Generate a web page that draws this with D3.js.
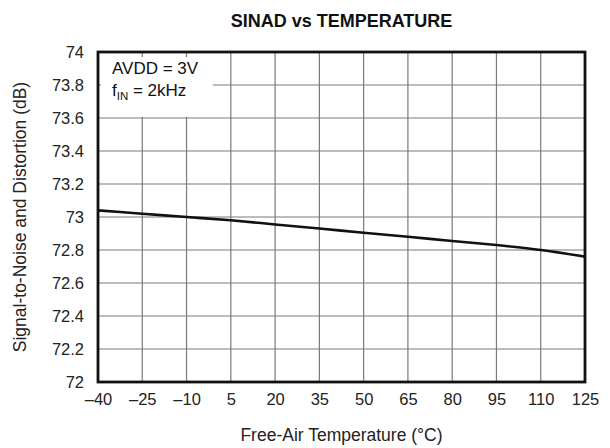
<!DOCTYPE html>
<html>
<head>
<meta charset="utf-8">
<script src="https://cdn.jsdelivr.net/npm/d3@7"></script>
<style>
  body { margin: 0; background: #fff; }
  svg { display: block; font-family: "Liberation Sans", Arial, Helvetica, sans-serif; }
</style>
</head>
<body>
<svg id="chart" width="610" height="448"></svg>
<script>
// SINAD vs temperature
const temps = [-40, -25, -10, 5, 20, 35, 50, 65, 80, 95, 110, 125];
const sinad = [73.04, 73.02, 73.0, 72.98, 72.955, 72.93, 72.905, 72.88, 72.855, 72.83, 72.8, 72.76];
const xTicks = [-40, -25, -10, 5, 20, 35, 50, 65, 80, 95, 110, 125];
const yTicks = [72, 72.2, 72.4, 72.6, 72.8, 73, 73.2, 73.4, 73.6, 73.8, 74];

const svg = d3.select('#chart'),
  margin = {left: 98, right: 25, top: 52, bottom: 66},
  width = +svg.attr('width') - margin.left - margin.right,
  height = +svg.attr('height') - margin.top - margin.bottom;

const x = d3.scaleLinear().domain([-40, 125]).range([0, width]);
const y = d3.scaleLinear().domain([72, 74]).range([height, 0]);

const g = svg.append('g').attr('transform', 'translate(' + margin.left + ',' + margin.top + ')');

// grid
g.append('g')
  .selectAll('line')
  .data(xTicks.slice(1, -1))
  .join('line')
  .attr('x1', d => x(d)).attr('x2', d => x(d))
  .attr('y1', 0).attr('y2', height)
  .attr('stroke', '#7a7a7a').attr('stroke-width', 1.2);

g.append('g')
  .selectAll('line')
  .data(yTicks.slice(1, -1))
  .join('line')
  .attr('x1', 0).attr('x2', width)
  .attr('y1', d => y(d)).attr('y2', d => y(d))
  .attr('stroke', '#7a7a7a').attr('stroke-width', 1.2);

// white box for the conditions note
g.append('rect')
  .attr('x', 3).attr('y', 5)
  .attr('width', 112).attr('height', y(73.6) - 6)
  .attr('fill', '#fff');

g.append('text')
  .attr('x', 14).attr('y', 22)
  .attr('font-size', 17).attr('fill', '#111')
  .text('AVDD = 3V');

const fin = g.append('text')
  .attr('x', 14).attr('y', 44)
  .attr('font-size', 17).attr('fill', '#111');
fin.append('tspan').text('f');
fin.append('tspan').attr('font-size', 11.5).attr('dy', 4).text('IN');
fin.append('tspan').attr('dy', -4).text(' = 2kHz');

// curve
const line = d3.line()
  .x((d, i) => x(temps[i]))
  .y(d => y(d))
  .curve(d3.curveMonotoneX);

g.append('path')
  .datum(sinad)
  .attr('d', line)
  .attr('fill', 'none')
  .attr('stroke', '#111')
  .attr('stroke-width', 2.6);

// frame
g.append('rect')
  .attr('x', 0).attr('y', 0)
  .attr('width', width).attr('height', height)
  .attr('fill', 'none')
  .attr('stroke', '#111')
  .attr('stroke-width', 2.8);

// axes (labels only)
const xAxis = g.append('g')
  .attr('transform', 'translate(0,' + height + ')')
  .call(d3.axisBottom(x).tickValues(xTicks).tickSize(0).tickPadding(11)
    .tickFormat(d => d < 0 ? '\u2013' + Math.abs(d) : d));
xAxis.select('.domain').remove();
xAxis.selectAll('text').attr('font-size', 16.5).attr('fill', '#222').attr('font-family', null);

const yAxis = g.append('g')
  .call(d3.axisLeft(y).tickValues(yTicks).tickSize(0).tickPadding(14)
    .tickFormat(d => String(+d.toFixed(1))));
yAxis.select('.domain').remove();
yAxis.selectAll('text').attr('font-size', 16.5).attr('fill', '#222').attr('font-family', null);

// titles
svg.append('text')
  .attr('x', margin.left + width / 2).attr('y', 27)
  .attr('text-anchor', 'middle')
  .attr('font-size', 18).attr('font-weight', 'bold').attr('fill', '#111')
  .text('SINAD vs TEMPERATURE');

svg.append('text')
  .attr('x', margin.left + width / 2).attr('y', 441)
  .attr('text-anchor', 'middle')
  .attr('font-size', 17.5).attr('fill', '#222')
  .text('Free-Air Temperature (\u00B0C)');

svg.append('text')
  .attr('transform', 'translate(26,' + (margin.top + height / 2) + ') rotate(-90)')
  .attr('text-anchor', 'middle')
  .attr('font-size', 17.5).attr('fill', '#222')
  .text('Signal-to-Noise and Distortion (dB)');
</script>
</body>
</html>
